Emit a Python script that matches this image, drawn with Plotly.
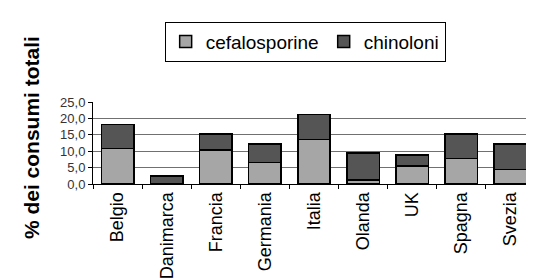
import plotly.graph_objects as go

paesi = ["Belgio", "Danimarca", "Francia", "Germania", "Italia", "Olanda", "UK", "Spagna", "Svezia"]
cefalosporine = [10.9, 0.0, 10.4, 6.5, 13.6, 1.2, 5.5, 7.7, 4.4]
chinoloni = [7.2, 2.4, 4.9, 5.7, 7.6, 8.3, 3.3, 7.6, 7.8]
y_ticks = [0, 5, 10, 15, 20, 25]

fig = go.Figure()
fig.add_trace(go.Bar(x=paesi, y=cefalosporine, name="cefalosporine",
                     marker=dict(color="#A6A6A6", line=dict(color="black", width=1.5))))
fig.add_trace(go.Bar(x=paesi, y=chinoloni, name="chinoloni",
                     marker=dict(color="#555555", line=dict(color="black", width=1.5))))

fig.update_layout(
    barmode="stack",
    bargap=0.34,
    width=534, height=278,
    margin=dict(l=85, r=7, t=94, b=100),
    paper_bgcolor="white", plot_bgcolor="white",
    font=dict(family="Liberation Sans, Arial, sans-serif", color="black"),
    showlegend=True,
    legend=dict(orientation="h", x=0.48, xanchor="center", y=1.98, yanchor="top",
                bordercolor="black", borderwidth=1, font=dict(size=19),
                itemwidth=30, traceorder="normal"),
    xaxis=dict(tickangle=-90, tickfont=dict(size=18), showline=True, linecolor="black",
               linewidth=1, ticks="outside", tickson="boundaries", ticklen=4,
               tickcolor="black", showgrid=False),
    yaxis=dict(range=[0, 25], tickvals=y_ticks, tickformat=".1f", showline=True,
               linecolor="black", linewidth=1, ticks="outside", ticklen=4, tickcolor="black",
               gridcolor="#707070", gridwidth=1, tickfont=dict(size=13, color="#333333")),
    separators=",.",
    annotations=[dict(text="<b>% dei consumi totali</b>", textangle=-90, xref="paper", yref="paper",
                      x=(23 - 85) / 442, y=0.56, xanchor="center", yanchor="middle",
                      showarrow=False, font=dict(size=21))],
)
fig.write_html("out.html")
